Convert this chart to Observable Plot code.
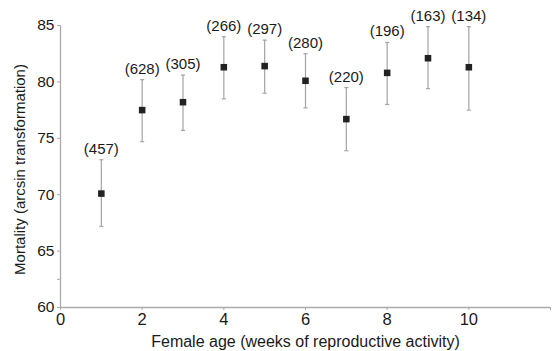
<!DOCTYPE html>
<html>
<head>
<meta charset="utf-8">
<script src="https://cdn.jsdelivr.net/npm/d3@7"></script>
<script src="https://cdn.jsdelivr.net/npm/@observablehq/plot@0.6"></script>
<style>
  html, body { margin: 0; padding: 0; background: #fff; }
  #chart svg { display: block; }
</style>
</head>
<body>
<div id="chart"></div>
<script>
// Female age (weeks of reproductive activity)
const ages = [1, 2, 3, 4, 5, 6, 7, 8, 9, 10];
// Mortality (arcsin transformation): mean, lower and upper error bar ends
const means = [70.1, 77.5, 78.2, 81.3, 81.4, 80.1, 76.7, 80.8, 82.1, 81.3];
const lower = [67.2, 74.7, 75.7, 78.5, 79.0, 77.7, 73.9, 78.0, 79.4, 77.5];
const upper = [73.1, 80.2, 80.6, 84.0, 83.7, 82.5, 79.5, 83.5, 84.9, 84.9];
// sample sizes
const sampleSizes = ["(457)", "(628)", "(305)", "(266)", "(297)", "(280)", "(220)", "(196)", "(163)", "(134)"];
const xTicks = [0, 2, 4, 6, 8, 10];
const xMinorTicks = [12];
const yTicks = [60, 65, 70, 75, 80, 85];
const yMinorTicks = [62.5];
const xTitle = "Female age (weeks of reproductive activity)";
const yTitle = "Mortality (arcsin transformation)";

const data = ages.map((a, i) => ({age: a, mean: means[i], lo: lower[i], hi: upper[i], n: sampleSizes[i]}));

const capSymbol = {
  draw(context, size) {
    const w = Math.sqrt(size) / 2;
    context.moveTo(-w, 0);
    context.lineTo(w, 0);
  }
};

const axisGray = "#ababab";
const barGray = "#a3a3a3";
const ink = "#1a1a1a";

const chart = Plot.plot({
  width: 557,
  height: 351,
  marginLeft: 60,
  marginRight: 7,
  marginTop: 25,
  marginBottom: 44,
  style: {fontFamily: "'Liberation Sans', Arial, sans-serif", fontSize: "15px", color: ink, background: "#fff"},
  x: {domain: [0, 12], type: "linear"},
  y: {domain: [60, 85]},
  marks: [
    Plot.ruleX([0], {stroke: axisGray, strokeWidth: 1.3}),
    Plot.ruleY([60], {stroke: axisGray, strokeWidth: 1.3}),
    Plot.axisX({ticks: xTicks, tickSize: 3, tickPadding: 3, stroke: axisGray, fill: ink, label: null, fontSize: 16.5}),
    Plot.axisX({ticks: xMinorTicks, tickSize: 3, text: null, stroke: axisGray, label: null}),
    Plot.axisY({ticks: yTicks, tickSize: 3, tickPadding: 3, stroke: axisGray, fill: ink, label: null, fontSize: 15.5}),
    Plot.axisY({ticks: yMinorTicks, tickSize: 3, text: null, stroke: axisGray, label: null}),
    Plot.ruleX(data, {x: "age", y1: "lo", y2: "hi", stroke: barGray, strokeWidth: 1.2}),
    Plot.dot(data, {x: "age", y: "lo", symbol: capSymbol, r: 2.3, stroke: barGray, strokeWidth: 1.2}),
    Plot.dot(data, {x: "age", y: "hi", symbol: capSymbol, r: 2.3, stroke: barGray, strokeWidth: 1.2}),
    Plot.dot(data, {x: "age", y: "mean", symbol: "square", r: 3.7, fill: "#222", stroke: null}),
    Plot.text(data, {x: "age", y: "hi", text: "n", lineAnchor: "bottom", dy: -6, fill: ink, fontSize: 15}),
    Plot.text([xTitle], {frameAnchor: "bottom", text: d => d, lineAnchor: "bottom", dy: 39, fill: ink, fontSize: 16}),
    Plot.text([yTitle], {frameAnchor: "left", text: d => d, rotate: -90, textAnchor: "middle", lineAnchor: "middle", dx: -40, dy: 3, fill: ink, fontSize: 15})
  ]
});

document.getElementById("chart").appendChild(chart);
</script>
</body>
</html>
